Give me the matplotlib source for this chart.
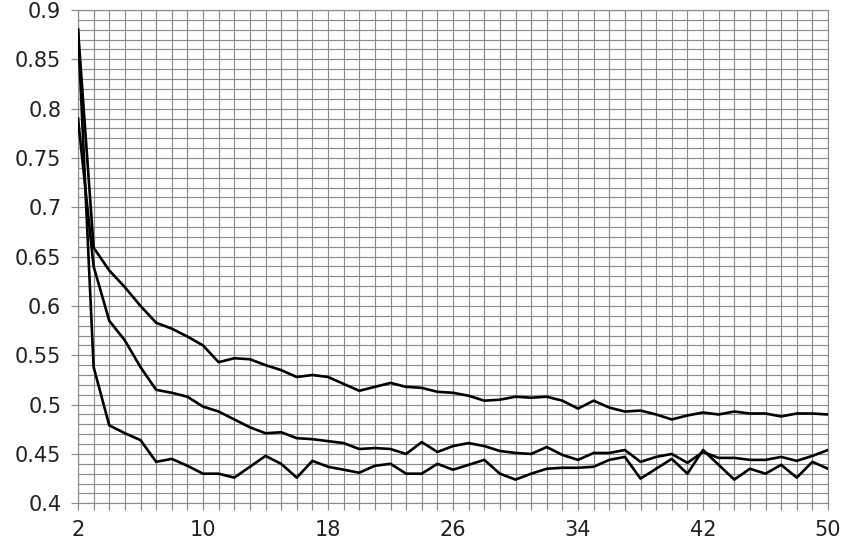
import numpy as np
import matplotlib
matplotlib.use('Agg')
import matplotlib.pyplot as plt
from matplotlib.ticker import MultipleLocator

# x positions 2..50
x_vals = list(range(2, 51))

# upper curve
series_top = [0.880, 0.659, 0.636, 0.619, 0.600, 0.583, 0.577, 0.569, 0.560, 0.543,
              0.547, 0.546, 0.540, 0.535, 0.528, 0.530, 0.528, 0.521, 0.514, 0.518,
              0.522, 0.518, 0.517, 0.513, 0.512, 0.509, 0.504, 0.505, 0.508, 0.507,
              0.508, 0.504, 0.496, 0.504, 0.497, 0.493, 0.494, 0.490, 0.485, 0.489,
              0.492, 0.490, 0.493, 0.491, 0.491, 0.488, 0.491, 0.491, 0.490]

# middle curve
series_mid = [0.790, 0.640, 0.585, 0.565, 0.538, 0.515, 0.512, 0.508, 0.498, 0.493,
              0.485, 0.477, 0.471, 0.472, 0.466, 0.465, 0.463, 0.461, 0.455, 0.456,
              0.455, 0.450, 0.462, 0.452, 0.458, 0.461, 0.458, 0.453, 0.451, 0.450,
              0.457, 0.449, 0.444, 0.451, 0.451, 0.454, 0.442, 0.447, 0.450, 0.441,
              0.452, 0.446, 0.446, 0.444, 0.444, 0.447, 0.443, 0.448, 0.454]

# lower curve
series_low = [0.880, 0.538, 0.479, 0.471, 0.464, 0.442, 0.445, 0.438, 0.430, 0.430,
              0.426, 0.437, 0.448, 0.440, 0.426, 0.443, 0.437, 0.434, 0.431, 0.438,
              0.440, 0.430, 0.430, 0.440, 0.434, 0.439, 0.444, 0.430, 0.424, 0.430,
              0.435, 0.436, 0.436, 0.437, 0.444, 0.447, 0.425, 0.435, 0.445, 0.430,
              0.454, 0.439, 0.424, 0.435, 0.430, 0.439, 0.426, 0.442, 0.435]

x_labels = [2, 10, 18, 26, 34, 42, 50]
y_labels = [0.4, 0.45, 0.5, 0.55, 0.6, 0.65, 0.7, 0.75, 0.8, 0.85, 0.9]

grid_col = '#8c8c8c'

fig = plt.figure(figsize=(8.47, 5.48), dpi=100)
ax = fig.add_axes([0.0921, 0.0816, 0.8855, 0.9002])

for ys in (series_top, series_mid, series_low):
    ax.plot(x_vals, ys, color='black', lw=1.9, solid_joinstyle='round', zorder=3)

ax.set_xlim(2, 50)
ax.set_ylim(0.4, 0.9)
ax.set_xticks(x_labels)
ax.set_xticklabels([str(v) for v in x_labels])
ax.set_yticks(y_labels)
ax.set_yticklabels(['%g' % v for v in y_labels])
ax.xaxis.set_minor_locator(MultipleLocator(1))
ax.yaxis.set_minor_locator(MultipleLocator(0.01))

ax.grid(which='both', color=grid_col, lw=0.85)
ax.set_axisbelow(True)

ax.tick_params(axis='x', which='both', length=5, width=0.85, color=grid_col,
               pad=7, labelsize=15, labelcolor='#222222')
ax.tick_params(axis='y', which='major', length=5, width=0.85, color=grid_col,
               pad=7, labelsize=15, labelcolor='#222222')
ax.tick_params(axis='y', which='minor', length=0)

for sp in ax.spines.values():
    sp.set_color(grid_col)
    sp.set_linewidth(0.85)

fig.savefig('out.png', dpi=100)
